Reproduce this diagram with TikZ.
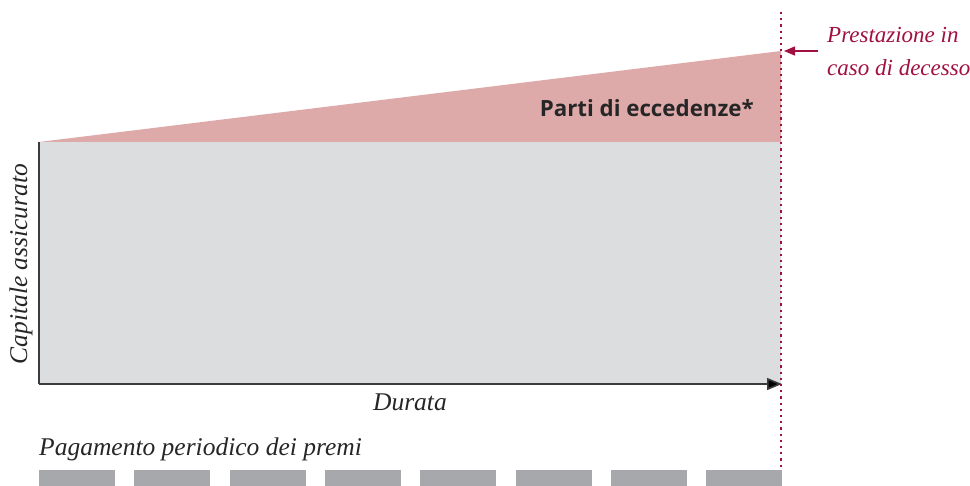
\documentclass[tikz,border=0pt]{standalone}
\usepackage{fontspec}
\setmainfont{Liberation Serif}
\newfontfamily\boldsans{Open Sans}
\usetikzlibrary{arrows.meta}
\definecolor{crim}{RGB}{160,16,64}
\definecolor{pinkfill}{RGB}{221,170,169}
\definecolor{grayfill}{RGB}{220,221,223}
\definecolor{barfill}{RGB}{167,168,171}
\definecolor{axisc}{RGB}{60,60,60}
\tikzset{
  lbl/.style={font=\itshape\fontsize{25.5}{28}\selectfont, inner sep=0pt, text=black!85},
  crimlbl/.style={font=\itshape\fontsize{23}{26}\selectfont, inner sep=0pt, text=crim},
}
\begin{document}
\begin{tikzpicture}[x=1pt,y=-1pt]
\useasboundingbox (0,0) rectangle (970,486);
% areas
\fill[grayfill] (39,142) rectangle (781,384);
\fill[pinkfill] (39,142) -- (781,51) -- (781,142) -- cycle;
% axes
\coordinate (top) at (39,142);
\coordinate (origin) at (39,384);
\coordinate (xend) at (782,384);
\draw[axisc, line width=1.6pt] (top) -- (origin);
\draw[axisc, line width=1.6pt, -{Triangle[length=15pt,width=12pt,fill=black]}] (origin) -- (xend);
% dotted vertical line
\coordinate (dtop) at (781,12);
\coordinate (dbot) at (781,473);
\draw[crim, line width=2.2pt, dash pattern=on 2.2pt off 4pt] (dtop) -- (dbot);
% labels
\node[lbl, rotate=90] (cap) at (21,264) {Capitale assicurato};
\node[lbl, anchor=base] (dur) at (410,411) {Durata};
\node[lbl, anchor=base west] (pag) at (39,455) {Pagamento periodico dei premi};
\node[font=\boldsans\bfseries\fontsize{22.3}{24}\selectfont, anchor=base east, inner sep=0pt, text=black!85] (parti) at (754,117) {Parti di eccedenze*};
\node[crimlbl, anchor=base west] (prest1) at (827,43) {Prestazione in};
\node[crimlbl, anchor=base west] (prest2) at (827,76) {caso di decesso};
\coordinate (arrs) at (818,51);
\coordinate (arre) at (784,51);
\draw[crim, line width=1.4pt, -{Triangle[length=11pt,width=9pt]}] (arrs) -- (arre);
% premium bars
\foreach \i in {0,...,7} {
  \fill[barfill] ({39+95.3*\i},470) rectangle ({115+95.3*\i},486);
}
\end{tikzpicture}
\end{document}
